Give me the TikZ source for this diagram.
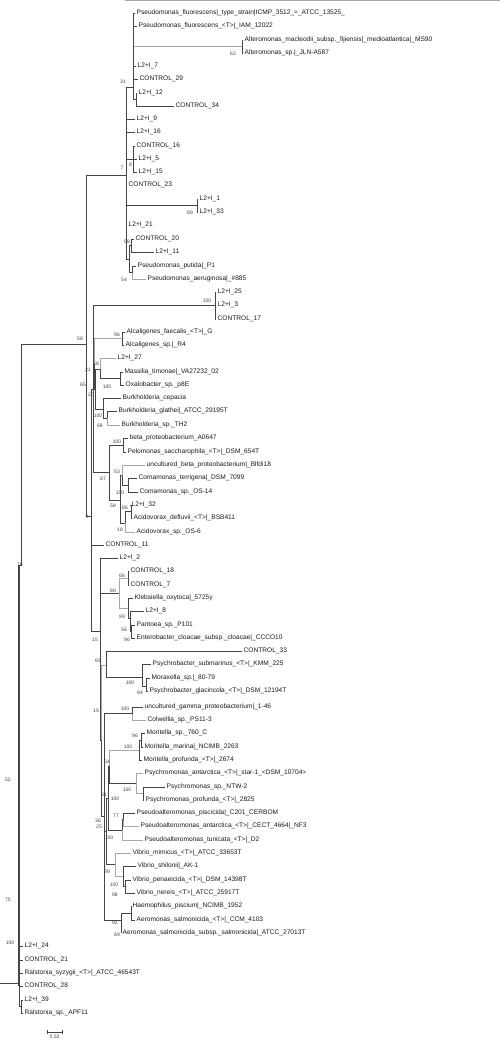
\documentclass[tikz,border=0pt]{standalone}
\usepackage{fontspec}
\setmainfont{Liberation Sans}
\usetikzlibrary{positioning,calc}
\definecolor{TreeDark}{HTML}{454545}
\definecolor{TreeLight}{HTML}{A8A8A8}
\tikzset{
  br/.style={draw=TreeDark,line width=0.8pt},
  brl/.style={draw=TreeLight,line width=0.8pt},
  brk/.style={draw=TreeDark,line width=1.6pt},
  leaf/.style={anchor=west,inner sep=0pt,inner xsep=1.5pt,font=\fontsize{6.6}{7}\selectfont,text=black!90},
  bs/.style={inner sep=0pt,font=\fontsize{5}{5}\selectfont,text=black!75},
}
\newcommand{\clade}[3][br]{\foreach \c in {#3}{\draw[#1] (#2) |- (\c);}}

\begin{document}
\begin{tikzpicture}[x=1pt,y=-1pt]
\useasboundingbox (0,0) rectangle (500,1050);
\draw[TreeLight] (125,0.5) -- (500,0.5);

% leaves
\node[leaf] (l1) at (135,13) {Pseudomonas\_fluorescens|\_type\_strain|ICMP\_3512\_=\_ATCC\_13525\_};
\node[leaf] (l2) at (137,26) {Pseudomonas\_fluorescens\_<T>|\_IAM\_12022};
\node[leaf] (l3) at (243,40) {Alteromonas\_macleodii\_subsp.\_fijiensis|\_medioatlantica|\_MS90};
\node[leaf] (l4) at (243,53) {Alteromonas\_sp.|\_JLN-A587};
\node[leaf] (l5) at (136,66) {L2+I\_7};
\node[leaf] (l6) at (138,79) {CONTROL\_29};
\node[leaf] (l7) at (137,93) {L2+I\_12};
\node[leaf] (l8) at (174,106) {CONTROL\_34};
\node[leaf] (l9) at (135,119) {L2+I\_9};
\node[leaf] (l10) at (135,132) {L2+I\_16};
\node[leaf] (l11) at (135,146) {CONTROL\_16};
\node[leaf] (l12) at (137,159) {L2+I\_5};
\node[leaf] (l13) at (137,172) {L2+I\_15};
\node[leaf] (l14) at (127,185) {CONTROL\_23};
\node[leaf] (l15) at (198,199) {L2+I\_1};
\node[leaf] (l16) at (198,212) {L2+I\_33};
\node[leaf] (l17) at (127,225) {L2+I\_21};
\node[leaf] (l18) at (134,239) {CONTROL\_20};
\node[leaf] (l19) at (154,252) {L2+I\_11};
\node[leaf] (l20) at (136,266) {Pseudomonas\_putida|\_P1};
\node[leaf] (l21) at (146,279) {Pseudomonas\_aeruginosa|\_\#885};
\node[leaf] (l22) at (216,292) {L2+I\_25};
\node[leaf] (l23) at (216,305) {L2+I\_3};
\node[leaf] (l24) at (216,319) {CONTROL\_17};
\node[leaf] (l25) at (125,332) {Alcaligenes\_faecalis\_<T>|\_G};
\node[leaf] (l26) at (124,345) {Alcaligenes\_sp.|\_R4};
\node[leaf] (l27) at (116,358) {L2+I\_27};
\node[leaf] (l28) at (123,372) {Massilia\_timonae|\_VA27232\_02};
\node[leaf] (l29) at (124,385) {Oxalobacter\_sp.\_p8E};
\node[leaf] (l30) at (121,398) {Burkholderia\_cepacia};
\node[leaf] (l31) at (117,411) {Burkholderia\_glathei|\_ATCC\_29195T};
\node[leaf] (l32) at (120,425) {Burkholderia\_sp.\_TH2};
\node[leaf] (l33) at (128,438) {beta\_proteobacterium\_A0647};
\node[leaf] (l34) at (126,452) {Pelomonas\_saccharophila\_<T>|\_DSM\_654T};
\node[leaf] (l35) at (145,465) {uncultured\_beta\_proteobacterium|\_Blfdi18};
\node[leaf] (l36) at (137,478) {Comamonas\_terrigena|\_DSM\_7099};
\node[leaf] (l37) at (138,492) {Comamonas\_sp.\_OS-14};
\node[leaf] (l38) at (130,505) {L2+I\_32};
\node[leaf] (l39) at (132,518) {Acidovorax\_defluvii\_<T>|\_BSB411};
\node[leaf] (l40) at (135,532) {Acidovorax\_sp.\_OS-6};
\node[leaf] (l41) at (104,545) {CONTROL\_11};
\node[leaf] (l42) at (118,558) {L2+I\_2};
\node[leaf] (l43) at (129,571) {CONTROL\_18};
\node[leaf] (l44) at (129,585) {CONTROL\_7};
\node[leaf] (l45) at (133,598) {Klebsiella\_oxytoca|\_5725y};
\node[leaf] (l46) at (144,611) {L2+I\_8};
\node[leaf] (l47) at (135,625) {Pantoea\_sp.\_P101};
\node[leaf] (l48) at (135,638) {Enterobacter\_cloacae\_subsp.\_cloacae|\_CCCO10};
\node[leaf] (l49) at (242,651) {CONTROL\_33};
\node[leaf] (l50) at (151,664) {Psychrobacter\_submarinus\_<T>|\_KMM\_225};
\node[leaf] (l51) at (150,678) {Moraxella\_sp.|\_80-79};
\node[leaf] (l52) at (148,691) {Psychrobacter\_glacincola\_<T>|\_DSM\_12194T};
\node[leaf] (l53) at (143,707) {uncultured\_gamma\_proteobacterium|\_1-46};
\node[leaf] (l54) at (146,720) {Colwellia\_sp.\_PS11-3};
\node[leaf] (l55) at (145,733) {Moritella\_sp.\_760\_C};
\node[leaf] (l56) at (143,747) {Moritella\_marina|\_NCIMB\_2263};
\node[leaf] (l57) at (142,760) {Moritella\_profunda\_<T>|\_2674};
\node[leaf] (l58) at (143,773) {Psychromonas\_antarctica\_<T>|\_star-1\_<DSM\_10704>};
\node[leaf] (l59) at (165,787) {Psychromonas\_sp.\_NTW-2};
\node[leaf] (l60) at (144,800) {Psychromonas\_profunda\_<T>|\_2825};
\node[leaf] (l61) at (135,813) {Pseudoalteromonas\_piscicida|\_C201\_CERBOM};
\node[leaf] (l62) at (139,826) {Pseudoalteromonas\_antarctica\_<T>|\_CECT\_4664|\_NF3};
\node[leaf] (l63) at (143,840) {Pseudoalteromonas\_tunicata\_<T>|\_D2};
\node[leaf] (l64) at (131,853) {Vibrio\_mimicus\_<T>|\_ATCC\_33653T};
\node[leaf] (l65) at (136,866) {Vibrio\_shilonii|\_AK-1};
\node[leaf] (l66) at (131,880) {Vibrio\_penaeicida\_<T>|\_DSM\_14398T};
\node[leaf] (l67) at (135,893) {Vibrio\_nereis\_<T>|\_ATCC\_25917T};
\node[leaf] (l68) at (131,906) {Haemophilus\_piscium|\_NCIMB\_1952};
\node[leaf] (l69) at (135,920) {Aeromonas\_salmonicida\_<T>|\_CCM\_4103};
\node[leaf] (l70) at (121,933) {Aeromonas\_salmonicida\_subsp.\_salmonicida|\_ATCC\_27013T};
\node[leaf] (l71) at (23,946) {L2+I\_24};
\node[leaf] (l72) at (23,960) {CONTROL\_21};
\node[leaf] (l73) at (23,973) {Ralstonia\_syzygii\_<T>|\_ATCC\_46543T};
\node[leaf] (l74) at (23,986) {CONTROL\_28};
\node[leaf] (l75) at (23,1000) {L2+I\_39};
\node[leaf] (l76) at (23,1013) {Ralstonia\_sp.\_APF11};

% inner nodes
\coordinate (nAlt) at (242,46.5);
\coordinate (nTop) at (133,30);
\coordinate (n12) at (136,99.5);
\coordinate (n31) at (133,87);
\coordinate (n8) at (133,159);
\coordinate (n89) at (197,205.5);
\coordinate (n98) at (131,245.5);
\coordinate (n54) at (132,272.5);
\coordinate (nPP) at (129,259);
\coordinate (n7) at (126,175);
\coordinate (nL25) at (215,305.5);
\coordinate (nAlc) at (122,338.5);
\coordinate (nMO) at (120,378.5);
\coordinate (n58b) at (100,369);
\coordinate (nBG) at (107,418);
\coordinate (nBurk) at (103,409);
\coordinate (n20) at (95.5,389);
\coordinate (n21) at (94,364);
\coordinate (nBeta) at (123,445);
\coordinate (nCom) at (128,485);
\coordinate (n53) at (122,475.5);
\coordinate (n86) at (131,511.5);
\coordinate (n18) at (125,523);
\coordinate (n58c) at (120,500);
\coordinate (n87) at (109,472.5);
\coordinate (n65) at (93,389.5);
\coordinate (n66) at (128,578);
\coordinate (n56) at (131,631.5);
\coordinate (n99) at (130,618);
\coordinate (nKleb) at (128,608);
\coordinate (n80) at (119,593);
\coordinate (nPsy2) at (146,686.5);
\coordinate (nPsy) at (142,677);
\coordinate (n69) at (106,665);
\coordinate (nGam) at (132,713.5);
\coordinate (n96m) at (141,740);
\coordinate (nMor) at (139,750);
\coordinate (nPs2) at (143,793.5);
\coordinate (nPsm) at (136,783);
\coordinate (n64) at (109.5,766.5);
\coordinate (n77) at (123,819.5);
\coordinate (nPa) at (122,830);
\coordinate (n51) at (108,798);
\coordinate (n100v) at (125,886.5);
\coordinate (nV2) at (123,876);
\coordinate (nVib) at (115,864.5);
\coordinate (n25) at (106.5,831);
\coordinate (n92) at (131,913);
\coordinate (nAer) at (121,920);
\coordinate (n36) at (104,816);
\coordinate (n15b) at (101.5,740.5);
\coordinate (n15a) at (100,631);
\coordinate (n9) at (91.5,516);
\coordinate (n58) at (86.5,344);
\coordinate (n76) at (21.5,565);
\coordinate (nR2) at (21,1006.5);
\coordinate (nRoot) at (19,983);
\coordinate (rStub) at (0,983);

% branches
\clade{nAlt}{l3.west,l4.west}
\clade{nTop}{l1.west,l2.west}
\clade[brl]{nTop}{nAlt}
\clade{n12}{l7.west,l8.west}
\clade{n31}{nTop,l5.west,l6.west,n12}
\clade{n8}{l11.west,l12.west,l13.west}
\clade{n89}{l15.west,l16.west}
\clade{n98}{l18.west,l19.west}
\clade{n54}{l20.west}
\clade[brl]{n54}{l21.west}
\clade{nPP}{n98,n54}
\clade{n7}{n31,l9.west,l10.west,n8,l14.west,n89,l17.west,nPP}
\clade{nL25}{l22.west,l23.west,l24.west}
\clade{nAlc}{l25.west,l26.west}
\clade{nMO}{l28.west,l29.west}
\clade[brl]{n58b}{l27.west}
\clade{n58b}{nMO}
\clade{nBG}{l31.west}
\clade[brl]{nBG}{l32.west}
\clade{nBurk}{l30.west,nBG}
\clade{n20}{n58b,nBurk}
\clade[brl]{n21}{nAlc}
\clade{n21}{n20}
\clade{nBeta}{l33.west,l34.west}
\clade{nCom}{l36.west,l37.west}
\clade[brl]{n53}{l35.west}
\clade{n53}{nCom}
\clade{n86}{l38.west,l39.west}
\clade{n18}{n86}
\clade[brl]{n18}{l40.west}
\clade{n58c}{n53,n18}
\clade{n87}{nBeta,n58c}
\clade{n65}{nL25,n21,n87}
\clade{n66}{l43.west,l44.west}
\clade{n56}{l47.west,l48.west}
\clade{n99}{l46.west,n56}
\clade{nKleb}{l45.west,n99}
\clade[brl]{n80}{n66,nKleb}
\clade{nPsy2}{l51.west,l52.west}
\clade{nPsy}{l50.west,nPsy2}
\clade{n69}{l49.west,nPsy}
\clade{nGam}{l53.west}
\clade[brl]{nGam}{l54.west}
\clade{n96m}{l55.west,l56.west}
\clade{nMor}{n96m,l57.west}
\clade{nPs2}{l59.west,l60.west}
\clade[brl]{nPsm}{l58.west,nPs2}
\clade[brl]{n64}{nMor}
\clade{n64}{nPsm}
\clade{n77}{l61.west}
\clade[brl]{n77}{l62.west}
\clade{nPa}{n77}
\clade[brl]{nPa}{l63.west}
\clade{n51}{n64,nPa}
\clade{n100v}{l66.west,l67.west}
\clade{nV2}{l65.west,n100v}
\clade[brl]{nVib}{l64.west,nV2}
\clade{n25}{n51,nVib}
\clade{n92}{l68.west,l69.west}
\clade{nAer}{n92,l70.west}
\clade{n36}{nGam,n25,nAer}
\clade[brl]{n15b}{n69}
\clade{n15b}{n36}
\clade{n15a}{l42.west,n80,n15b}
\clade{n9}{n65,l41.west,n15a}
\clade{n58}{n7,n9}
\clade{n76}{n58}
\clade{nR2}{l75.west,l76.west}
\clade{nRoot}{n76,l71.west,l72.west,l73.west,l74.west,nR2}
\draw[brk] (nRoot |- n76) -- (nRoot |- l74.west);
\draw[br] (rStub) -- (nRoot);

% bootstrap values
\foreach \v/\x/\y in {62/233/54,31/123/82,8/130.5/165,7/122/168,89/190/213,98/127/242,54/124/280,
  100/207/301,58/80/339,96/117/335,58/96/364,21/88/370,100/107/387,65/83/385,20/91/395,
  100/98/416,69/100/426,100/117/442,53/117/472,87/103/479,100/120/493,58/113/506,86/125/508,
  9/87/517,18/120/530,66/122/576,80/113/591,99/122/617,56/124/630,96/127/640,15/95/640,
  69/98/661,100/130/683,94/140/693,100/125/709,15/96/711,96/135/736,100/128/747,64/107/762,
  51/104/795,100/127/790,100/115/799,77/116/816,36/98/821,25/99/827,100/109/838,99/107/872,
  100/114/885,98/115/895,92/115/923,69/117/935,76/20/565,52/8/780,70/8/900,100/10/943}
  \node[bs] at (\x,\y) {\v};

% scale bar
\coordinate (sbA) at (47,1032);
\coordinate (sbB) at (62,1032);
\draw[TreeDark,line width=0.6pt] (sbA) -- (sbB);
\draw[TreeDark,line width=0.6pt] (sbA) ++(0,-2) -- ++(0,4);
\draw[TreeDark,line width=0.6pt] (sbB) ++(0,-2) -- ++(0,4);
\node[bs,below=3pt] at ($(sbA)!.5!(sbB)$) {0.02};
\end{tikzpicture}
\end{document}
